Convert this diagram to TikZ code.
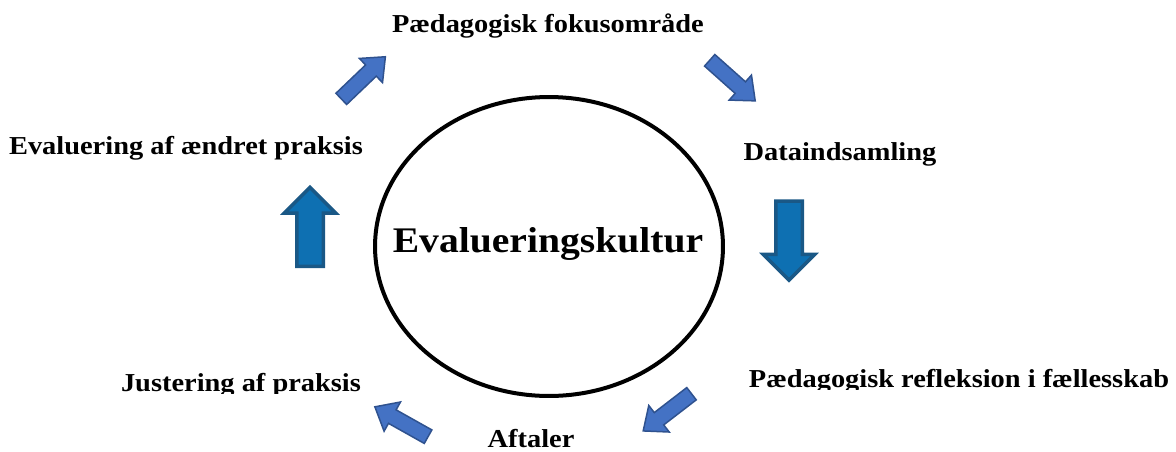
\documentclass[tikz,border=0pt]{standalone}
\usepackage{fontspec}
\setmainfont[FakeStretch=1.1]{Liberation Serif}
\usetikzlibrary{shapes.arrows,shapes.geometric}

\definecolor{pilblaa}{RGB}{68,114,196}
\definecolor{pilkant}{RGB}{47,82,143}
\definecolor{stolpe}{RGB}{14,112,178}
\definecolor{stolpekant}{RGB}{26,88,134}

\tikzset{
  etiket/.style={font=\bfseries\fontsize{14.7}{17}\selectfont, inner sep=0pt, anchor=base},
  skraapil/.style={single arrow, fill=pilblaa, draw=pilkant, line width=0.03cm,
    inner xsep=0pt, inner ysep=0.14cm, single arrow head extend=0.18cm,
    single arrow tip angle=80, minimum height=1.22cm},
  stolpepil/.style={single arrow, fill=stolpe, draw=stolpekant, line width=0.07cm,
    inner xsep=0pt, inner ysep=0.23cm, single arrow head extend=0.25cm,
    single arrow tip angle=90, minimum height=1.58cm}
}

\begin{document}
\begin{tikzpicture}[x=0.02cm,y=-0.02cm]

        \useasboundingbox (0,0) rectangle (1176,451);

        \node (ring) [ellipse, draw, line width=0.08cm, minimum width=6.96cm, minimum height=5.98cm] at (549,246.5) {};
        \node (kultur) [font=\bfseries\fontsize{20.5}{24}\selectfont, inner sep=0pt, anchor=base] at (548,252) {Evalueringskultur};

        \begin{scope}[every node/.style={etiket}]
          \node (fokus)  at (548,32)  {Pædagogisk fokusområde};
          \node (data)   at (840,160) {Dataindsamling};
          \node (evalu)  at (186,154) {Evaluering af ændret praksis};
          \node (aftale) at (531,447) {Aftaler};
        \end{scope}

        % de to nederste etiketter er skaaret af forneden
        \begin{scope}
          \clip (100,350) rectangle (380,393) (740,350) rectangle (1176,389);
          \node (juster) [etiket] at (241,391) {Justering af praksis};
          \node (refl)   [etiket] at (959,387) {Pædagogisk refleksion i fællesskab};
        \end{scope}

        \begin{scope}[every node/.style={skraapil}]
          \node (p1) [rotate=43.7]  at (360,81)    {};
          \node (p2) [rotate=-41.7] at (729,77.5)  {};
          \node (p5) [rotate=217.6] at (671,409.5) {};
          \node (p6) [rotate=150.7] at (405.5,424) {};
        \end{scope}

        \begin{scope}[every node/.style={stolpepil}]
          \node (p3) [rotate=-90] at (789,234)   {};
          \node (p4) [rotate=90]  at (310,233.5) {};
        \end{scope}

\end{tikzpicture}
\end{document}
